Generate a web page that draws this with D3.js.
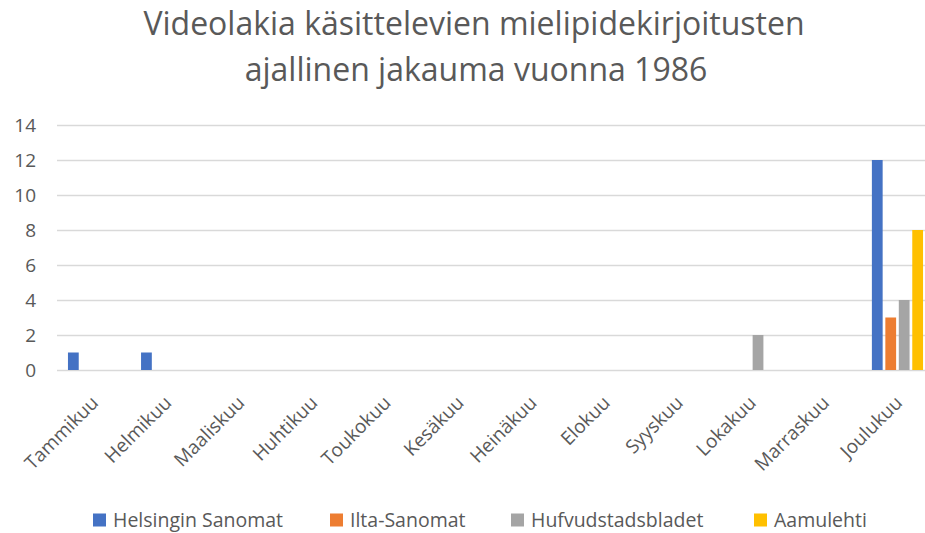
<!DOCTYPE html>
<html>
<head>
<meta charset="UTF-8">
<script src="https://d3js.org/d3.v7.min.js"></script>
<style>
  body { margin: 0; background: #fff; }
  svg { font-family: "Open Sans", sans-serif; }
  .grid line { stroke: #d9d9d9; stroke-width: 1.5; }
  .grid .domain { display: none; }
  .txt { fill: #595959; }
</style>
</head>
<body>
<svg width="925" height="533"></svg>
<script>
  var months = ["Tammikuu", "Helmikuu", "Maaliskuu", "Huhtikuu", "Toukokuu", "Kesäkuu",
                "Heinäkuu", "Elokuu", "Syyskuu", "Lokakuu", "Marraskuu", "Joulukuu"]
  var seriesNames = ["Helsingin Sanomat", "Ilta-Sanomat", "Hufvudstadsbladet", "Aamulehti"]
  var helsinginSanomat  = [1, 1, 0, 0, 0, 0, 0, 0, 0, 0, 0, 12]
  var iltaSanomat       = [0, 0, 0, 0, 0, 0, 0, 0, 0, 0, 0, 3]
  var hufvudstadsbladet = [0, 0, 0, 0, 0, 0, 0, 0, 0, 2, 0, 4]
  var aamulehti         = [0, 0, 0, 0, 0, 0, 0, 0, 0, 0, 0, 8]
  var yTicks = [0, 2, 4, 6, 8, 10, 12, 14]
  var colors = ["#4472c4", "#ed7d31", "#a5a5a5", "#ffc000"]

  var values = [helsinginSanomat, iltaSanomat, hufvudstadsbladet, aamulehti]

  var svg = d3.select("svg")

  // plot area (the right side is cut off in the original picture)
  var plotLeft = 57, plotRight = 934, plotTop = 125, plotBottom = 370

  var x0 = d3.scaleBand().domain(months).range([plotLeft, plotRight]).padding(0)
  var bw = x0.bandwidth()
  var x1 = d3.scaleBand().domain(seriesNames).range([bw * 0.15, bw * 0.85]).paddingInner(0.2)
  var y = d3.scaleLinear().domain([0, 14]).range([plotBottom, plotTop])

  // title
  svg.append("text").attr("class", "txt")
    .attr("x", 474).attr("y", 35)
    .attr("text-anchor", "middle").style("font-size", "32px")
    .text("Videolakia käsittelevien mielipidekirjoitusten")
  svg.append("text").attr("class", "txt")
    .attr("x", 476).attr("y", 81)
    .attr("text-anchor", "middle").style("font-size", "32px")
    .text("ajallinen jakauma vuonna 1986")

  // gridlines
  svg.append("g").attr("class", "grid")
    .attr("transform", "translate(" + plotLeft + ",0)")
    .call(d3.axisLeft(y).tickValues(yTicks).tickSize(-(plotRight - plotLeft)).tickFormat(""))

  // y labels
  svg.selectAll(".ylab").data(yTicks).enter().append("text")
    .attr("class", "txt ylab")
    .attr("x", 36)
    .attr("y", function(d) { return y(d) })
    .attr("dy", "0.35em")
    .attr("text-anchor", "end")
    .style("font-size", "19px")
    .text(function(d) { return d })

  // bars
  var groups = svg.selectAll(".grp").data(months).enter().append("g")
    .attr("class", "grp")
    .attr("transform", function(d) { return "translate(" + x0(d) + ",0)" })

  groups.selectAll("rect")
    .data(function(m, i) {
      return seriesNames.map(function(s, j) { return { s: s, v: values[j][i], c: colors[j] } })
    })
    .enter().append("rect")
    .filter(function(d) { return d.v > 0 })
    .attr("x", function(d) { return x1(d.s) })
    .attr("width", x1.bandwidth())
    .attr("y", function(d) { return y(d.v) })
    .attr("height", function(d) { return y(0) - y(d.v) })
    .attr("fill", function(d) { return d.c })

  // x labels
  svg.selectAll(".xlab").data(months).enter().append("text")
    .attr("class", "txt xlab")
    .attr("text-anchor", "end")
    .style("font-size", "19px")
    .attr("transform", function(d) {
      return "translate(" + (x0(d) + bw / 2 + 6) + ",404) rotate(-45)"
    })
    .text(function(d) { return d })

  // legend
  var legendX = [93, 330, 511, 754]
  var legend = svg.selectAll(".leg").data(seriesNames).enter().append("g")
    .attr("class", "leg")
    .attr("transform", function(d, i) { return "translate(" + legendX[i] + ",520)" })
  legend.append("rect")
    .attr("x", 0).attr("y", -6.5).attr("width", 13).attr("height", 13)
    .attr("fill", function(d, i) { return colors[i] })
  legend.append("text").attr("class", "txt")
    .attr("x", 20).attr("y", 6.5)
    .style("font-size", "19.5px")
    .text(function(d) { return d })
</script>
</body>
</html>
